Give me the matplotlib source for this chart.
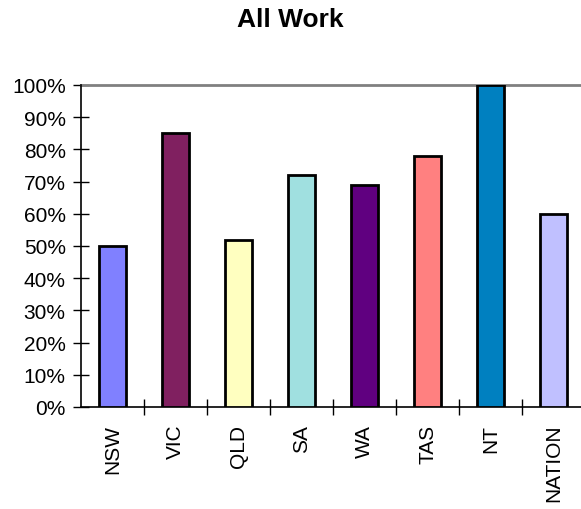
import numpy as np
import matplotlib.pyplot as plt
from matplotlib.ticker import PercentFormatter

plt.rcParams['font.family'] = ['Liberation Sans', 'DejaVu Sans']

states = ['NSW', 'VIC', 'QLD', 'SA', 'WA', 'TAS', 'NT', 'NATION']
share = [0.50, 0.85, 0.52, 0.72, 0.69, 0.78, 1.00, 0.60]
colours = ['#8080FF', '#802060', '#FFFFC0', '#A0E0E0', '#600080', '#FF8080', '#0080C0', '#C0C0FF']

fig = plt.figure(figsize=(5.81, 5.10), dpi=100)
ax = fig.add_axes([0.1394, 0.2, 0.8675, 0.6314])

x = np.arange(len(states))
ax.bar(x, share, width=0.43, color=colours, edgecolor='black', linewidth=2, zorder=3)

ax.set_xlim(-0.5, len(states) - 0.5)
ax.set_ylim(0, 1)
ax.axhline(1.0, color='#808080', linewidth=2, clip_on=False, zorder=2)

ax.set_yticks(np.arange(0, 1.01, 0.1))
ax.yaxis.set_major_formatter(PercentFormatter(1.0, decimals=0))
ax.tick_params(axis='y', direction='inout', length=12, width=1, labelsize=15, pad=5)

ax.set_xticks(x)
ax.set_xticklabels(states, rotation=90, fontsize=15)
ax.set_xticks(np.arange(0.5, len(states) - 0.5, 1), minor=True)
ax.tick_params(axis='x', which='major', length=0, pad=12)
ax.tick_params(axis='x', which='minor', direction='inout', length=12, width=1)

for side in ['top', 'right']:
    ax.spines[side].set_visible(False)
ax.spines['left'].set_linewidth(1.2)
ax.spines['bottom'].set_linewidth(1.2)

fig.text(0.5, 0.984, 'All Work', ha='center', va='top', fontsize=19, fontweight='bold')

fig.savefig('out.png', dpi=100)
